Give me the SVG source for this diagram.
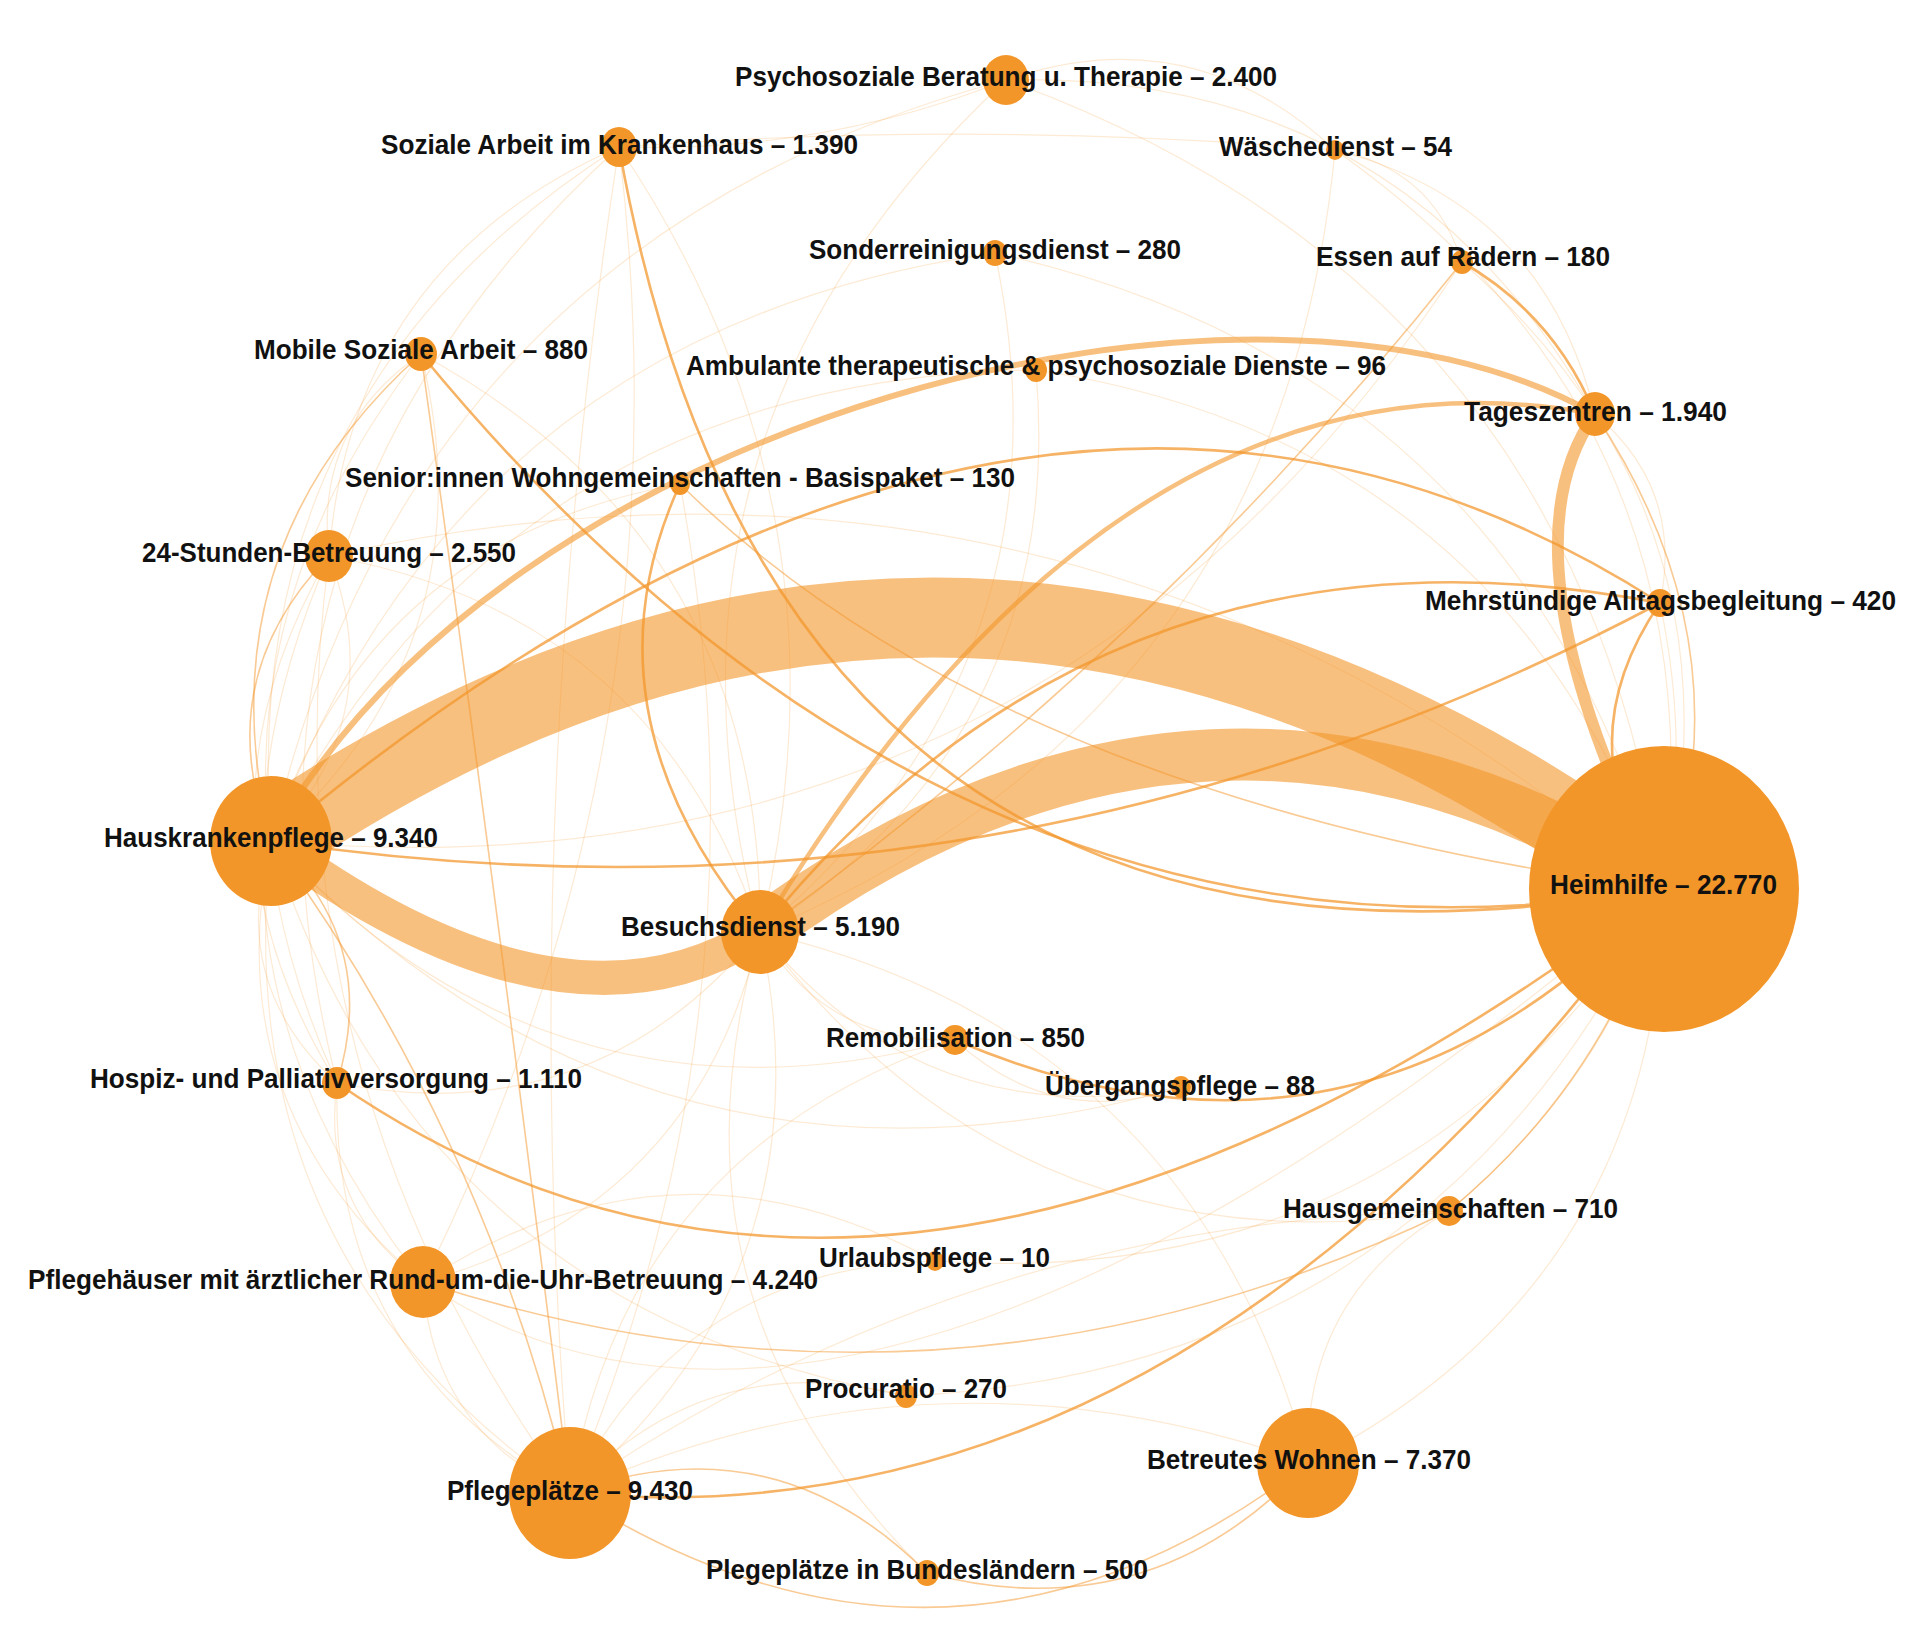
<svg xmlns="http://www.w3.org/2000/svg" width="1926" height="1646" viewBox="0 0 1926 1646">
<style>
  .bg{fill:#ffffff}
  path{fill:none;stroke:#F39629;stroke-linecap:butt}
  .thick{stroke-opacity:0.6}
  .med{stroke-width:2.6;stroke-opacity:0.72}
  .thin{stroke-width:1.6;stroke-opacity:0.5}
  .faint{stroke-width:1.2;stroke-opacity:0.2}
  .node{fill:#F39629}
  text{font-family:"Liberation Sans",Arial,Helvetica,sans-serif;font-weight:bold;font-size:28px;fill:#111111}
</style>
<rect class="bg" x="0" y="0" width="1926" height="1646"/>
<g id="connectors">
  <!-- faint -->
  <path class="faint" d="M619,147 Q351,265 329,556"/>
  <path class="faint" d="M619,147 Q237,390 271,841"/>
  <path class="faint" d="M619,147 Q197,530 337,1083"/>
  <path class="faint" d="M619,147 Q691,744 423,1282"/>
  <path class="faint" d="M619,147 Q977,120 1335,150"/>
  <path class="faint" d="M1006,80 Q410,240 271,841"/>
  <path class="faint" d="M1006,80 Q1578,287 1664,889"/>
  <path class="faint" d="M1006,80 Q627,432 760,932"/>
  <path class="faint" d="M1335,150 Q1721,421 1664,889"/>
  <path class="faint" d="M1335,150 Q1282,713 760,932"/>
  <path class="faint" d="M1335,150 Q1432,168 1462,262"/>
  <path class="faint" d="M1335,150 Q1544,204 1595,414"/>
  <path class="faint" d="M995,253 Q1520,370 1664,889"/>
  <path class="faint" d="M995,253 Q457,330 271,841"/>
  <path class="faint" d="M995,253 Q1081,663 760,932"/>
  <path class="faint" d="M1036,370 Q1506,441 1664,889"/>
  <path class="faint" d="M1036,370 Q512,376 271,841"/>
  <path class="faint" d="M1036,370 Q1067,734 760,932"/>
  <path class="faint" d="M1660,603 Q1684,489 1595,414"/>
  <path class="faint" d="M329,556 Q1080,389 1664,889"/>
  <path class="faint" d="M329,556 Q158,947 423,1282"/>
  <path class="faint" d="M329,556 Q175,822 337,1083"/>
  <path class="faint" d="M329,556 Q262,1073 570,1493"/>
  <path class="faint" d="M329,556 Q657,615 760,932"/>
  <path class="faint" d="M337,1083 Q330,1358 570,1493"/>
  <path class="faint" d="M337,1083 Q320,1208 423,1282"/>
  <path class="faint" d="M337,1083 Q594,1134 760,932"/>
  <path class="faint" d="M423,1282 Q433,1432 570,1493"/>
  <path class="faint" d="M423,1282 Q696,1208 760,932"/>
  <path class="faint" d="M570,1493 Q933,1330 1308,1463"/>
  <path class="faint" d="M570,1493 Q709,1344 906,1396"/>
  <path class="faint" d="M570,1493 Q833,1270 760,932"/>
  <path class="faint" d="M570,1493 Q683,1267 935,1261"/>
  <path class="faint" d="M1308,1463 Q1658,1283 1664,889"/>
  <path class="faint" d="M1308,1463 Q1303,1295 1449,1211"/>
  <path class="faint" d="M1308,1463 Q1193,1033 760,932"/>
  <path class="faint" d="M1449,1211 Q1021,1278 760,932"/>
  <path class="faint" d="M1449,1211 Q967,1220 570,1493"/>
  <path class="faint" d="M1660,603 Q1737,970 1449,1211"/>
  <path class="faint" d="M955,1040 Q553,1146 271,841"/>
  <path class="faint" d="M955,1040 Q825,1044 760,932"/>
  <path class="faint" d="M955,1040 Q626,1151 570,1493"/>
  <path class="faint" d="M955,1040 Q1054,1131 1181,1087"/>
  <path class="faint" d="M906,1396 Q1437,1370 1664,889"/>
  <path class="faint" d="M906,1396 Q422,1309 271,841"/>
  <path class="faint" d="M935,1261 Q1411,1294 1664,889"/>
  <path class="faint" d="M935,1261 Q673,1118 423,1282"/>
  <path class="faint" d="M1181,1087 Q652,1237 271,841"/>
  <path class="faint" d="M1181,1087 Q924,1136 760,932"/>
  <path class="faint" d="M1462,262 Q1751,515 1664,889"/>
  <path class="faint" d="M1462,262 Q1040,909 271,841"/>
  <path class="faint" d="M421,354 Q314,427 329,556"/>
  <path class="faint" d="M421,354 Q764,541 760,932"/>
  <path class="faint" d="M421,354 Q160,693 337,1083"/>
  <path class="faint" d="M680,484 Q368,540 271,841"/>
  <path class="faint" d="M680,484 Q776,1005 570,1493"/>
  <path class="faint" d="M1006,80 Q1401,70 1595,414"/>
  <path class="faint" d="M1006,80 Q1191,16 1335,150"/>
  <path class="faint" d="M619,147 Q824,153 1006,80"/>
  <path class="faint" d="M271,841 Q215,1107 423,1282"/>
  <path class="faint" d="M271,841 Q225,1257 570,1493"/>
  <path class="faint" d="M271,841 Q391,717 329,556"/>
  <path class="faint" d="M271,841 Q492,642 421,354"/>
  <path class="faint" d="M760,932 Q651,1303 927,1573"/>
  <path class="faint" d="M271,841 Q227,983 337,1083"/>
  <path class="faint" d="M423,1282 Q856,1574 1664,889"/>
  <path class="faint" d="M619,147 Q515,820 570,1493"/>
  <path class="faint" stroke-opacity="0.3" d="M619,147 Q862,508 760,932"/>
  <!-- thick bands -->
  <path class="thick" stroke-width="80" d="M271,841 Q966,371 1664,889"/>
  <path class="thick" stroke-width="52" d="M760,932 Q1212,600 1664,889"/>
  <path class="thick" stroke-width="34" d="M760,932 Q565,1057 271,841"/>
  <path class="thick" stroke-width="12" d="M1664,889 Q1495,556 1595,414"/>
  <path class="thick" stroke-width="6" d="M271,841 C500,420 1250,220 1595,414"/>
  <path class="thick" stroke-width="4.5" d="M760,932 Q1122,327 1595,414"/>
  <!-- thin -->
  <path class="thin" d="M1595,414 Q1750,648 1664,889"/>
  <path class="thin" d="M570,1493 Q774,1419 927,1573"/>
  <path class="thin" d="M271,841 Q381,941 337,1083"/>
  <path class="thin" d="M329,556 Q209,680 271,841"/>
  <path class="thin" d="M421,354 Q200,552 271,841"/>
  <path class="thin" d="M423,1282 Q950,1452 1449,1211"/>
  <path class="thin" d="M1462,262 Q1158,646 760,932"/>
  <path class="thin" d="M421,354 Q500,920 570,1493"/>
  <path class="thin" d="M271,841 Q486,1137 570,1493"/>
  <path class="thin" d="M1449,1211 Q1605,1082 1664,889"/>
  <path class="thin" d="M680,484 Q1000,800 1664,889"/>
  <path class="thin" d="M570,1493 Q950,1736 1308,1463"/>
  <path class="thin" d="M1308,1463 Q1150,1632 927,1573"/>
  <!-- medium -->
  <path class="med" d="M421,354 Q958,1008 1664,889"/>
  <path class="med" d="M619,147 Q778,1042 1664,889"/>
  <path class="med" d="M1660,603 Q1562,746 1664,889"/>
  <path class="med" d="M271,841 Q1034,202 1660,603"/>
  <path class="med" d="M337,1083 Q900,1470 1664,889"/>
  <path class="med" d="M570,1493 Q1183,1549 1664,889"/>
  <path class="med" d="M1462,262 Q1554,315 1595,414"/>
  <path class="med" stroke-width="2" d="M955,1040 Q1362,1213 1664,889"/>
  <path class="med" stroke-width="2" d="M680,484 Q576,712 760,932"/>
  <path class="med" stroke-width="2" d="M1660,603 Q1111,497 760,932"/>
  <path class="med" stroke-width="2" d="M1660,603 Q1005,950 271,841"/>
</g>
<g id="n-heimhilfe"><ellipse class="node" cx="1664" cy="889" rx="135" ry="143"/><text x="1550" y="894" textLength="227" lengthAdjust="spacingAndGlyphs">Heimhilfe – 22.770</text></g>
<g id="n-hauskrankenpflege"><ellipse class="node" cx="271" cy="841" rx="61" ry="65"/><text x="104" y="847" textLength="334" lengthAdjust="spacingAndGlyphs">Hauskrankenpflege – 9.340</text></g>
<g id="n-besuchsdienst"><ellipse class="node" cx="760" cy="932" rx="39" ry="42"/><text x="621" y="936" textLength="279" lengthAdjust="spacingAndGlyphs">Besuchsdienst – 5.190</text></g>
<g id="n-pflegeplaetze"><ellipse class="node" cx="570" cy="1493" rx="61" ry="66"/><text x="447" y="1500" textLength="246" lengthAdjust="spacingAndGlyphs">Pflegeplätze – 9.430</text></g>
<g id="n-betreutes-wohnen"><ellipse class="node" cx="1308" cy="1463" rx="51" ry="55"/><text x="1147" y="1469" textLength="324" lengthAdjust="spacingAndGlyphs">Betreutes Wohnen – 7.370</text></g>
<g id="n-pflegehaeuser"><ellipse class="node" cx="423" cy="1282" rx="33" ry="36"/><text x="28" y="1289" textLength="790" lengthAdjust="spacingAndGlyphs">Pflegehäuser mit ärztlicher Rund-um-die-Uhr-Betreuung – 4.240</text></g>
<g id="n-24-stunden"><ellipse class="node" cx="329" cy="556" rx="24" ry="26"/><text x="142" y="562" textLength="374" lengthAdjust="spacingAndGlyphs">24-Stunden-Betreuung – 2.550</text></g>
<g id="n-psychosoziale"><ellipse class="node" cx="1006" cy="80" rx="23" ry="25"/><text x="735" y="86" textLength="542" lengthAdjust="spacingAndGlyphs">Psychosoziale Beratung u. Therapie – 2.400</text></g>
<g id="n-tageszentren"><ellipse class="node" cx="1595" cy="414" rx="20" ry="22"/><text x="1464" y="421" textLength="263" lengthAdjust="spacingAndGlyphs">Tageszentren – 1.940</text></g>
<g id="n-soziale-arbeit"><ellipse class="node" cx="619" cy="147" rx="18" ry="20"/><text x="381" y="154" textLength="477" lengthAdjust="spacingAndGlyphs">Soziale Arbeit im Krankenhaus – 1.390</text></g>
<g id="n-hospiz"><ellipse class="node" cx="337" cy="1083" rx="15" ry="16"/><text x="90" y="1088" textLength="492" lengthAdjust="spacingAndGlyphs">Hospiz- und Palliativversorgung – 1.110</text></g>
<g id="n-mobile-soziale"><ellipse class="node" cx="421" cy="354" rx="16" ry="17"/><text x="254" y="359" textLength="334" lengthAdjust="spacingAndGlyphs">Mobile Soziale Arbeit – 880</text></g>
<g id="n-remobilisation"><ellipse class="node" cx="955" cy="1040" rx="14" ry="15"/><text x="826" y="1047" textLength="259" lengthAdjust="spacingAndGlyphs">Remobilisation – 850</text></g>
<g id="n-hausgemeinschaften"><ellipse class="node" cx="1449" cy="1211" rx="14" ry="15"/><text x="1283" y="1218" textLength="335" lengthAdjust="spacingAndGlyphs">Hausgemeinschaften – 710</text></g>
<g id="n-mehrstuendige"><ellipse class="node" cx="1660" cy="603" rx="13" ry="14"/><text x="1425" y="610" textLength="471" lengthAdjust="spacingAndGlyphs">Mehrstündige Alltagsbegleitung – 420</text></g>
<g id="n-plegeplaetze-bl"><ellipse class="node" cx="927" cy="1573" rx="12" ry="13"/><text x="706" y="1579" textLength="442" lengthAdjust="spacingAndGlyphs">Plegeplätze in Bundesländern – 500</text></g>
<g id="n-sonderreinigung"><ellipse class="node" cx="995" cy="253" rx="12" ry="13"/><text x="809" y="259" textLength="372" lengthAdjust="spacingAndGlyphs">Sonderreinigungsdienst – 280</text></g>
<g id="n-procuratio"><ellipse class="node" cx="906" cy="1396" rx="11" ry="12"/><text x="805" y="1398" textLength="202" lengthAdjust="spacingAndGlyphs">Procuratio – 270</text></g>
<g id="n-essen"><ellipse class="node" cx="1462" cy="262" rx="11" ry="12"/><text x="1316" y="266" textLength="294" lengthAdjust="spacingAndGlyphs">Essen auf Rädern – 180</text></g>
<g id="n-ambulante"><ellipse class="node" cx="1036" cy="370" rx="11" ry="12"/><text x="686" y="375" textLength="700" lengthAdjust="spacingAndGlyphs">Ambulante therapeutische &amp; psychosoziale Dienste – 96</text></g>
<g id="n-senior-wg"><ellipse class="node" cx="680" cy="484" rx="10" ry="11"/><text x="345" y="487" textLength="670" lengthAdjust="spacingAndGlyphs">Senior:innen Wohngemeinschaften - Basispaket – 130</text></g>
<g id="n-uebergangspflege"><ellipse class="node" cx="1181" cy="1087" rx="10" ry="11"/><text x="1045" y="1095" textLength="270" lengthAdjust="spacingAndGlyphs">Übergangspflege – 88</text></g>
<g id="n-waeschedienst"><ellipse class="node" cx="1335" cy="150" rx="9" ry="10"/><text x="1219" y="156" textLength="233" lengthAdjust="spacingAndGlyphs">Wäschedienst – 54</text></g>
<g id="n-urlaubspflege"><ellipse class="node" cx="935" cy="1261" rx="9" ry="10"/><text x="819" y="1267" textLength="231" lengthAdjust="spacingAndGlyphs">Urlaubspflege – 10</text></g>
</svg>
